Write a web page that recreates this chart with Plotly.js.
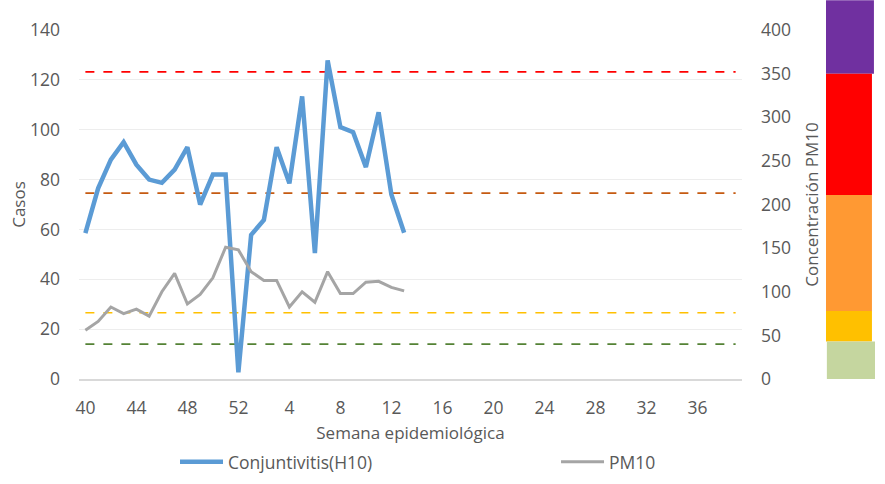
<!DOCTYPE html>
<html>
<head>
<meta charset="utf-8">
<script src="https://cdn.plot.ly/plotly-3.0.1.min.js"></script>
<style>
html,body{margin:0;padding:0;background:#fff;}
#chart{width:885px;height:484px;}
</style>
</head>
<body>
<div id="chart"></div>
<script>
// Epidemiological weeks (40..52 then 1..39)
var weeks = ["40","41","42","43","44","45","46","47","48","49","50","51","52",
  "1","2","3","4","5","6","7","8","9","10","11","12","13","14","15","16","17","18","19","20",
  "21","22","23","24","25","26","27","28","29","30","31","32","33","34","35","36","37","38","39"];
var tickWeeks = ["40","44","48","52","4","8","12","16","20","24","28","32","36"];

var dataWeeks = ["40","41","42","43","44","45","46","47","48","49","50","51","52",
  "1","2","3","4","5","6","7","8","9","10","11","12","13"];
var conjuntivitis = [58.5,76.5,88,95,86,80,78.7,84,93,70,82,82,2.7,
  57.8,63.8,93,78.5,113.4,50.5,127.8,101,99,85,107,74,58.7];
var pm10 = [56,66,82.5,75,80,72,100,121,86,97,116,151,148,
  123,113,113,82.5,100,88,123,98,98,111,112,105,101];

// Reference threshold lines (PM10 axis units)
var thresholdValues = [352,213,76,40];
var thresholdColors = ["#FF0000","#C55A11","#FFC000","#548235"];

// Colour band on right (PM10 axis units, boundaries)
var bandEdges = [434,350,211,78,43,0];
var bandColors = ["#7030A0","#FF0000","#FF9933","#FFC000","#C5D69F"];

var font = "Open Sans, Liberation Sans, sans-serif";
var textColor = "#595959";

var traces = [
  {x: dataWeeks, y: conjuntivitis, name: "Conjuntivitis(H10)", type: "scatter", mode: "lines",
   line: {color: "#5B9BD5", width: 4.5}, yaxis: "y", legend: "legend"},
  {x: dataWeeks, y: pm10, name: "PM10", type: "scatter", mode: "lines",
   line: {color: "#A5A5A5", width: 3}, yaxis: "y2", legend: "legend2"}
];

var shapes = [];
thresholdValues.forEach(function(v, i){
  shapes.push({type: "line", xref: "x", yref: "y2", x0: 0, x1: weeks.length - 1,
    y0: v, y1: v, line: {color: thresholdColors[i], width: 1.6, dash: "dash"}, layer: "below"});
});
// band geometry in paper coords (y2 range 0..400 maps to paper 0..1)
var bandX = [[1.1267,1.199],[1.1267,1.196],[1.1267,1.196],[1.1267,1.196],[1.128,1.2006]];
for (var i = 0; i < bandColors.length; i++) {
  shapes.push({type: "rect", xref: "paper", yref: "paper",
    x0: bandX[i][0], x1: bandX[i][1], y0: bandEdges[i+1]/400, y1: bandEdges[i]/400,
    fillcolor: bandColors[i], line: {width: 0}});
}

var legendBase = {orientation: "h", yref: "container", y: 0.0455, xanchor: "left", yanchor: "middle",
  itemwidth: 43, font: {size: 17.5, color: textColor}, bgcolor: "rgba(0,0,0,0)"};
var legend1 = Object.assign({}, legendBase, {x: 0.1448});
var legend2 = Object.assign({}, legendBase, {x: 0.7195});

var layout = {
  width: 885, height: 484,
  margin: {l: 79, r: 143, t: 29.5, b: 104.5},
  paper_bgcolor: "#fff", plot_bgcolor: "#fff",
  font: {family: font, color: textColor, size: 16},
  showlegend: true,
  legend: legend1,
  legend2: legend2,
  xaxis: {type: "category", categoryorder: "array", categoryarray: weeks,
    range: [-0.5, weeks.length - 0.5], tickmode: "array", tickvals: tickWeeks, ticktext: tickWeeks,
    showgrid: false, zeroline: false, showline: true, linecolor: "#D9D9D9", linewidth: 1.5,
    ticks: "", tickfont: {size: 17.5, color: textColor}, ticklabelstandoff: 12,
    title: {text: "Semana epidemiológica", font: {size: 17, color: textColor}, standoff: 13}},
  yaxis: {range: [0, 140], dtick: 20, tick0: 0, showgrid: true, gridcolor: "#EDEDED", gridwidth: 1,
    zeroline: false, showline: false, ticks: "", tickfont: {size: 17.5, color: textColor},
    ticklabelstandoff: 18,
    title: {text: "Casos", font: {size: 17, color: textColor}, standoff: 0}},
  yaxis2: {range: [0, 400], dtick: 50, tick0: 0, overlaying: "y", side: "right",
    showgrid: false, zeroline: false, showline: false, ticks: "",
    tickfont: {size: 17.5, color: textColor}, ticklabelstandoff: 18,
    title: {text: "Concentración PM10", font: {size: 17, color: textColor}, standoff: 16}},
  shapes: shapes
};

Plotly.newPlot("chart", traces, layout, {displayModeBar: false, staticPlot: true});
</script>
</body>
</html>
